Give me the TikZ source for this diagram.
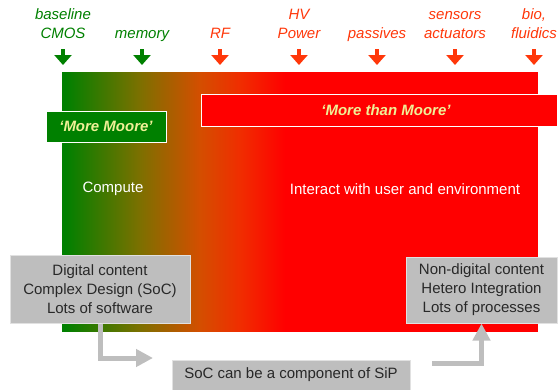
\documentclass[tikz,border=0pt]{standalone}
\usepackage{fontspec}
\setmainfont{Liberation Sans}
\usetikzlibrary{arrows.meta}
\definecolor{grn}{RGB}{0,128,0}
\definecolor{olv}{RGB}{125,112,0}
\definecolor{brn}{RGB}{212,78,0}
\definecolor{orr}{RGB}{240,45,0}
\definecolor{rd}{RGB}{255,0,0}
\definecolor{orng}{RGB}{255,55,10}
\definecolor{boxgray}{RGB}{190,190,190}
\definecolor{boxline}{RGB}{225,225,225}
\definecolor{txtgray}{RGB}{40,40,40}
\definecolor{ylw}{RGB}{240,240,150}
\tikzset{
  toplabel/.style={font=\fontsize{15}{18.5}\selectfont\itshape, align=center, inner sep=0pt, anchor=base},
  toparrow/.style={draw=#1, line width=4pt, -{Triangle[width=17pt,length=10pt]}},
  graybox/.style={fill=boxgray, draw=boxline, line width=1pt, text=txtgray, align=center,
    font=\fontsize{15}{19}\selectfont, inner sep=0pt},
  grayarrow/.style={draw=boxgray, line width=5pt, -{Triangle[width=17pt,length=17pt]}},
  tagbox/.style={draw=white, line width=1pt, inner sep=0pt},
  tagtext/.style={text=ylw, inner sep=0pt, font=\fontsize{15}{18}\selectfont\bfseries\itshape},
  bodytext/.style={text=white, font=\fontsize{15}{18}\selectfont, inner sep=0pt}
}
\begin{document}
\begin{tikzpicture}[x=1pt,y=-1pt]
\useasboundingbox (0,0) rectangle (559,389);
% gradient panel
\fill[rd] (62,72) rectangle (538,332);
\fill[grn] (62,72) rectangle (66,332);
\foreach \xa/\xb/\ca/\cb in {65/140/grn/olv, 140/200/olv/brn, 200/240/brn/orr, 240/285/orr/rd}{
  \pgfmathtruncatemacro{\nsteps}{\xb-\xa}
  \foreach \k in {0,...,\nsteps}{
    \pgfmathsetmacro{\pct}{100*\k/\nsteps}
    \fill[\cb!\pct!\ca] (\xa+\k,72) rectangle (\xa+\k+1.3,332);
  }
}

% top labels
\node[toplabel, text=grn] (cmos) at (63,38) {baseline\\CMOS};
\node[toplabel, text=grn] (mem) at (142,38) {memory};
\node[toplabel, text=orng] (rf) at (220,38) {RF};
\node[toplabel, text=orng] (hv) at (299,38) {HV\\Power};
\node[toplabel, text=orng] (pas) at (377,38) {passives};
\node[toplabel, text=orng] (sen) at (455,38) {sensors\\actuators};
\node[toplabel, text=orng] (bio) at (534,38) {bio,\\fluidics};

% top arrows
\foreach \n/\x/\c in {a/63/grn, b/142/grn, c/220/orng, d/299/orng, e/377/orng, f/455/orng, g/534/orng}{
  \coordinate (s\n) at (\x,49);
  \coordinate (t\n) at (\x,65);
  \draw[toparrow=\c] (s\n) -- (t\n);
}

% tags
\node[tagbox, fill=grn, minimum width=120pt, minimum height=31pt] (mm) at (106,126.5) {};
\node[tagtext] (mmt) at (106,126.5) {‘More Moore’};
\node[tagbox, fill=rd, minimum width=356pt, minimum height=32pt] (mtm) at (379,110) {};
\node[tagtext] (mtmt) at (386,110) {‘More than Moore’};

% body texts
\node[bodytext] (comp) at (113,189) {Compute};
\node[bodytext] (inter) at (405,189) {Interact with user and environment};

% gray boxes
\node[graybox, minimum width=180pt, minimum height=68pt] (lbox) at (100,289) {Digital content\\Complex Design (SoC)\\Lots of software};
\node[graybox, minimum width=151pt, minimum height=66pt] (rbox) at (481.5,290) {Non-digital content\\Hetero Integration\\Lots of processes};
\node[graybox, minimum width=238pt, minimum height=30pt] (sbox) at (291,375) {SoC can be a component of SiP};

% gray arrows
\coordinate (la) at (153,358);
\coordinate (ra) at (432,363);
\draw[grayarrow] (lbox.south) |- (la);
\draw[grayarrow] (ra) -| (rbox.south);
\end{tikzpicture}
\end{document}
